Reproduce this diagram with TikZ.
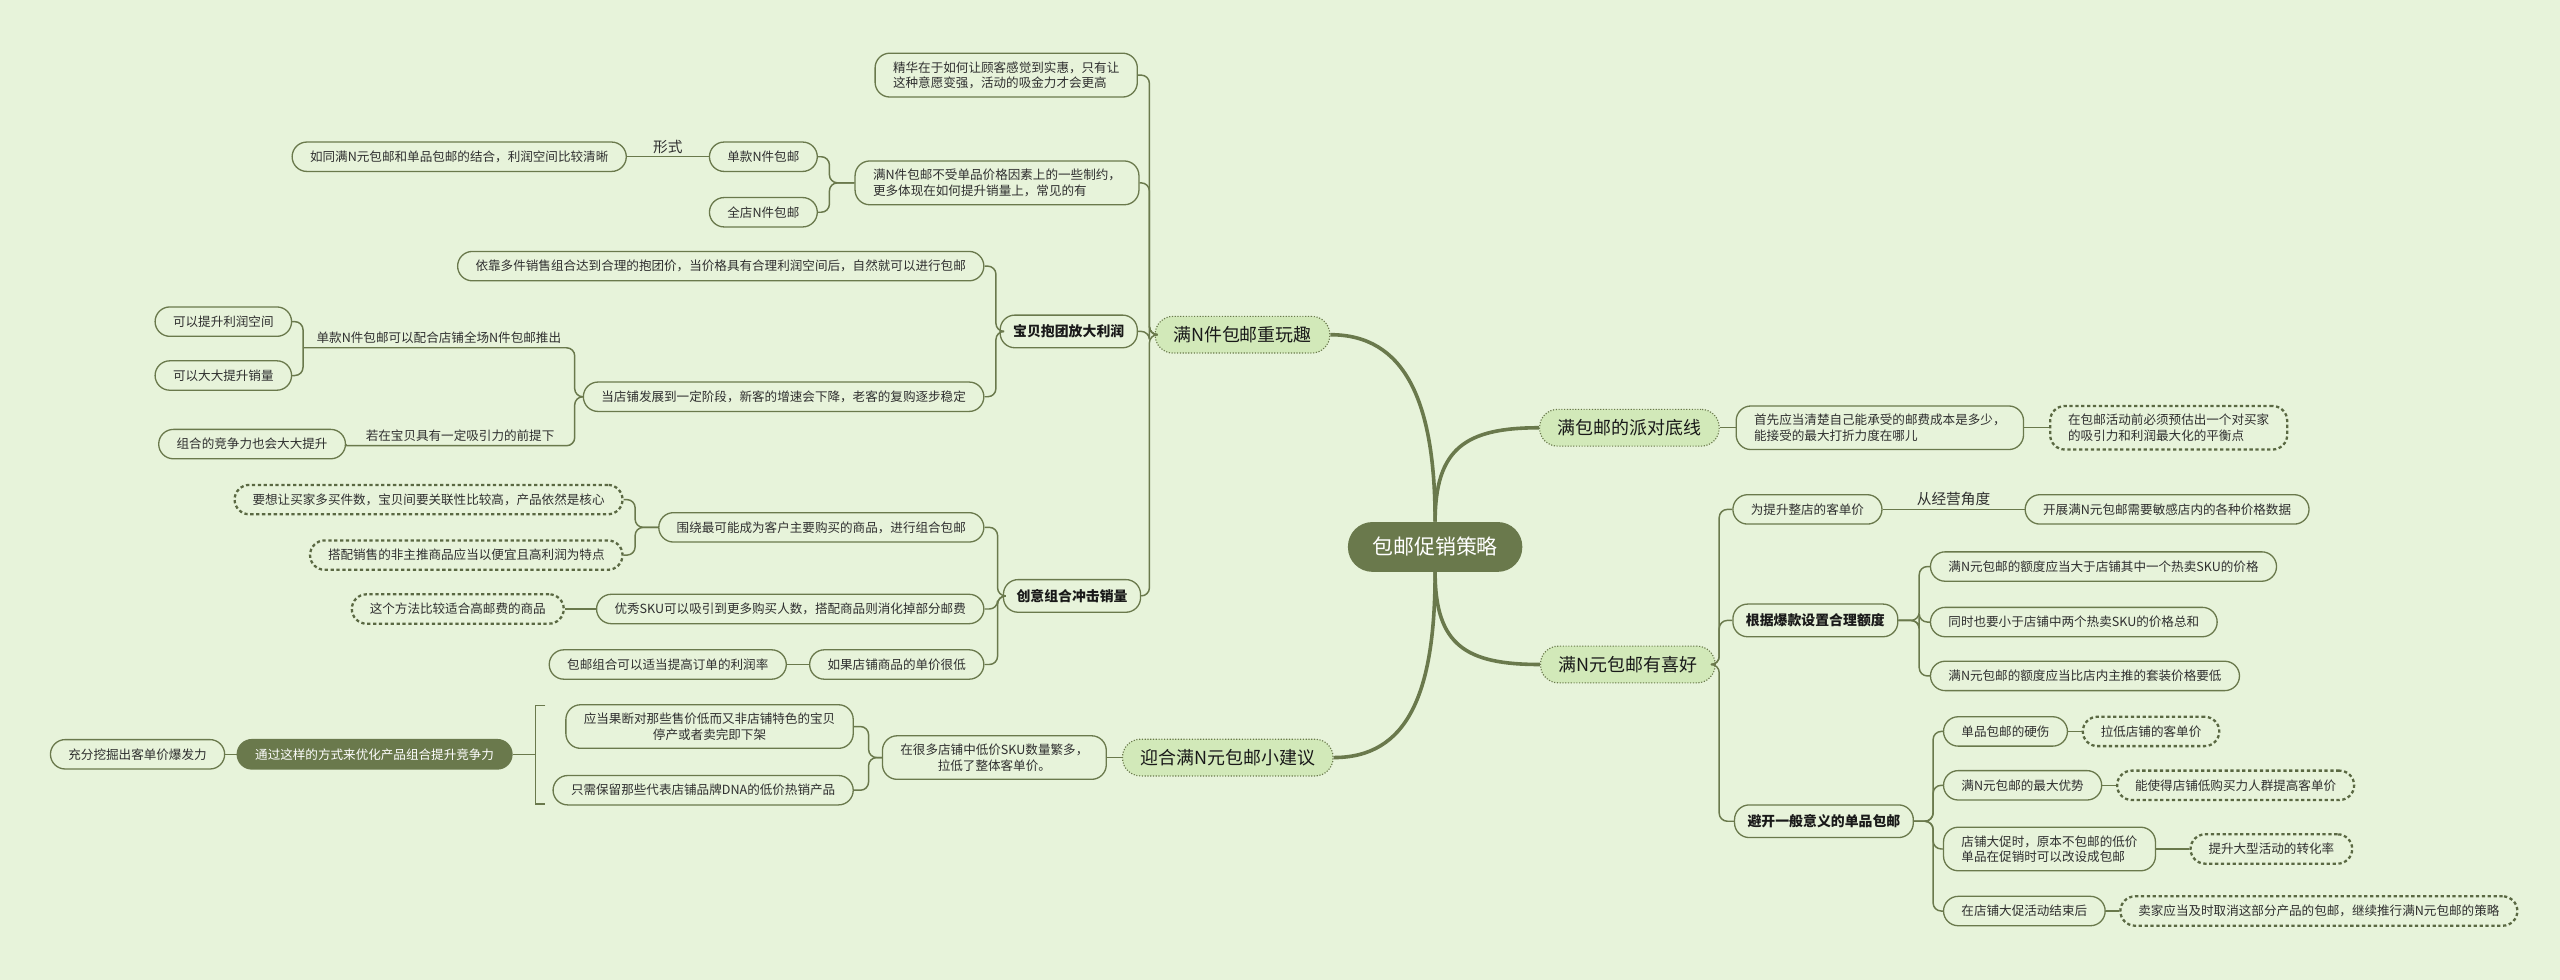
\documentclass[tikz,border=0pt]{standalone}
\usepackage{fontspec}
\setmainfont{Noto Sans CJK SC}
\usepackage{tikz}
\usetikzlibrary{positioning}
\definecolor{bg}{HTML}{E7F3DA}
\definecolor{mapolive}{HTML}{6A794C}
\definecolor{mapdark}{HTML}{5A6842}
\definecolor{leafgreen}{HTML}{D2E9B9}
\definecolor{ink}{HTML}{2F2F2F}

\begin{document}
\begin{tikzpicture}[x=1pt,y=-1pt,
   topic/.style={draw=mapolive,line width=0.8pt,fill=bg,rounded corners=9pt,text=ink,
     font=\fontsize{7.7}{9.5}\selectfont,inner xsep=11pt,inner ysep=5pt,minimum height=18pt,align=left},
   btopic/.style={topic,font=\fontsize{8.5}{10}\selectfont\bfseries,text=black!90,inner xsep=8pt,minimum height=20pt},
   dtopic/.style={topic,draw=mapdark,line width=1.4pt,dash pattern=on 2pt off 1.6pt},
   ftopic/.style={topic,fill=mapolive,text=white},
   utopic/.style={font=\fontsize{7.7}{9.5}\selectfont,text=ink,inner xsep=0pt,inner ysep=2.5pt},
   mainbr/.style={draw=mapolive,densely dotted,line width=0.7pt,fill=leafgreen,rounded corners=11pt,
     font=\fontsize{11}{13}\selectfont,text=black!90,inner xsep=11pt,minimum height=22.5pt},
   rootbr/.style={fill=mapolive,text=white,rounded corners=15pt,font=\fontsize{12.8}{15}\selectfont,
     inner xsep=15pt,minimum height=30.5pt},
   elabel/.style={font=\fontsize{9}{10}\selectfont,text=ink,inner sep=1.5pt},
   conn/.style={draw=mapolive,line width=0.9pt,rounded corners=5pt},
   trunk/.style={draw=mapolive,line width=2.2pt}]
  \useasboundingbox (0,0) rectangle (1568,600);
  \fill[bg] (0,0) rectangle (1568,600);

  \node[rootbr] (root) at (879,335) {包邮促销策略};
  \node[mainbr] (fun) at (761,205) {满N件包邮重玩趣};
  \node[mainbr] (base) at (998,262) {满包邮的派对底线};
  \node[mainbr] (pref) at (997,407) {满N元包邮有喜好};
  \node[mainbr] (tips) at (752,464) {迎合满N元包邮小建议};

  \draw[trunk] (root.north) .. controls +(0,-75) and +(45,0) .. (fun.east);
  \draw[trunk] (root.north) .. controls +(0,-45) and +(-45,0) .. (base.west);
  \draw[trunk] (root.south) .. controls +(0,45) and +(-45,0) .. (pref.west);
  \draw[trunk] (root.south) .. controls +(0,75) and +(45,0) .. (tips.east);

  % left, upper branch
  \node[topic,anchor=east] (essence) at (697,46) {精华在于如何让顾客感觉到实惠，只有让\\这种意愿变强，活动的吸金力才会更高};
  \node[topic,anchor=east] (nitem) at (698,112) {满N件包邮不受单品价格因素上的一些制约，\\更多体现在如何提升销量上，常见的有};
  \node[topic,anchor=east] (single) at (501,96) {单款N件包邮};
  \node[topic,anchor=east] (store) at (501,130) {全店N件包邮};
  \node[topic,anchor=east] (combo) at (384,96) {如同满N元包邮和单品包邮的结合，利润空间比较清晰};
  \node[btopic,anchor=east] (group) at (697,203) {宝贝抱团放大利润};
  \node[topic,anchor=east] (bundle) at (603,163) {依靠多件销售组合达到合理的抱团价，当价格具有合理利润空间后，自然就可以进行包邮};
  \node[topic,anchor=east] (stage) at (603,243) {当店铺发展到一定阶段，新客的增速会下降，老客的复购逐步稳定};
  \node[utopic,anchor=south east,minimum width=166pt] (withall) at (352,213) {单款N件包邮可以配合店铺全场N件包邮推出};
  \node[topic,anchor=east] (profit) at (179,197) {可以提升利润空间};
  \node[topic,anchor=east] (volume) at (179,230) {可以大大提升销量};
  \node[utopic,anchor=south east,minimum width=140pt] (attract) at (352,273) {若在宝贝具有一定吸引力的前提下};
  \node[topic,anchor=east] (compete) at (212,272) {组合的竞争力也会大大提升};
  \node[btopic,anchor=east] (creative) at (699,365) {创意组合冲击销量};
  \node[topic,anchor=east] (core) at (603,323) {围绕最可能成为客户主要购买的商品，进行组合包邮};
  \node[dtopic,anchor=east] (relate) at (382,306) {要想让买家多买件数，宝贝间要关联性比较高，产品依然是核心};
  \node[dtopic,anchor=east] (cheap) at (382,340) {搭配销售的非主推商品应当以便宜且高利润为特点};
  \node[topic,anchor=east] (goodsku) at (603,373) {优秀SKU可以吸引到更多购买人数，搭配商品则消化掉部分邮费};
  \node[dtopic,anchor=east] (heavy) at (346,373) {这个方法比较适合高邮费的商品};
  \node[topic,anchor=east] (lowprice) at (603,407) {如果店铺商品的单价很低};
  \node[topic,anchor=east] (margin) at (482,407) {包邮组合可以适当提高订单的利润率};

  \coordinate (sfun) at (704,205);
  \coordinate (snitem) at (508,112);
  \coordinate (sgroup) at (610,203);
  \coordinate (sstage) at (352,243);
  \coordinate (screat) at (611,365);
  \coordinate (score) at (389,323);
  \draw[conn] (fun.west) -- (sfun) |- (essence.east);
  \draw[conn] (fun.west) -- (sfun) |- (nitem.east);
  \draw[conn] (fun.west) -- (sfun) |- (group.east);
  \draw[conn] (fun.west) -- (sfun) |- (creative.east);
  \draw[conn] (nitem.west) -- (snitem) |- (single.east);
  \draw[conn] (nitem.west) -- (snitem) |- (store.east);
  \draw[conn] (single.west) -- node[elabel,above]{形式} (combo.east);
  \draw[conn] (group.west) -- (sgroup) |- (bundle.east);
  \draw[conn] (group.west) -- (sgroup) |- (stage.east);
  \draw[conn] (stage.west) -- (sstage) |- (withall.south west);
  \draw[conn] (stage.west) -- (sstage) |- (attract.south west);
  \draw[conn] (withall.south west) |- (profit.east);
  \draw[conn] (withall.south west) |- (volume.east);
  \draw[conn] (attract.south west) -- (compete.east);
  \draw[conn] (creative.west) -- (screat) |- (core.east);
  \draw[conn] (creative.west) -- (screat) |- (goodsku.east);
  \draw[conn] (creative.west) -- (screat) |- (lowprice.east);
  \draw[conn] (core.west) -- (score) |- (relate.east);
  \draw[conn] (core.west) -- (score) |- (cheap.east);
  \draw[conn] (goodsku.west) -- (heavy.east);
  \draw[conn] (lowprice.west) -- (margin.east);

  % left, lower branch
  \node[topic,anchor=east,align=center] (manysku) at (678,464) {在很多店铺中低价SKU数量繁多，\\拉低了整体客单价。};
  \node[topic,anchor=east,align=center] (drop) at (523,445) {应当果断对那些售价低而又非店铺特色的宝贝\\停产或者卖完即下架};
  \node[topic,anchor=east] (keep) at (523,484) {只需保留那些代表店铺品牌DNA的低价热销产品};
  \node[ftopic,anchor=east] (optim) at (314,462) {通过这样的方式来优化产品组合提升竞争力};
  \node[topic,anchor=east] (burst) at (138,462) {充分挖掘出客单价爆发力};
  \coordinate (smany) at (532,464);
  \coordinate (brk) at (328,462);
  \coordinate (brtop) at (328,432);
  \coordinate (brbot) at (328,492.5);
  \draw[conn] (tips.west) -- (manysku.east);
  \draw[conn] (manysku.west) -- (smany) |- (drop.east);
  \draw[conn] (manysku.west) -- (smany) |- (keep.east);
  \draw[conn,sharp corners] ([xshift=6pt]brtop) -- (brtop) -- (brbot) -- ([xshift=6pt]brbot);
  \draw[conn] (optim.east) -- (brk);
  \draw[conn] (optim.west) -- (burst.east);

  % right branches
  \node[topic,anchor=west] (cost) at (1063,262) {首先应当清楚自己能承受的邮费成本是多少，\\能接受的最大打折力度在哪儿};
  \node[dtopic,anchor=west] (balance) at (1255,262) {在包邮活动前必须预估出一个对买家\\的吸引力和利润最大化的平衡点};
  \node[topic,anchor=west] (avg) at (1061,312) {为提升整店的客单价};
  \node[topic,anchor=west] (data) at (1240,312) {开展满N元包邮需要敏感店内的各种价格数据};
  \node[btopic,anchor=west] (quota) at (1061,380) {根据爆款设置合理额度};
  \node[topic,anchor=west] (q1) at (1182,347) {满N元包邮的额度应当大于店铺其中一个热卖SKU的价格};
  \node[topic,anchor=west] (q2) at (1182,381) {同时也要小于店铺中两个热卖SKU的价格总和};
  \node[topic,anchor=west] (q3) at (1182,414) {满N元包邮的额度应当比店内主推的套装价格要低};
  \node[btopic,anchor=west] (avoid) at (1062,503) {避开一般意义的单品包邮};
  \node[topic,anchor=west] (flaw) at (1190,448) {单品包邮的硬伤};
  \node[dtopic,anchor=west] (lower) at (1275,448) {拉低店铺的客单价};
  \node[topic,anchor=west] (plus) at (1190,481) {满N元包邮的最大优势};
  \node[dtopic,anchor=west] (raise) at (1296,481) {能使得店铺低购买力人群提高客单价};
  \node[topic,anchor=west] (promo) at (1190,520) {店铺大促时，原本不包邮的低价\\单品在促销时可以改设成包邮};
  \node[dtopic,anchor=west] (convert) at (1341,520) {提升大型活动的转化率};
  \node[topic,anchor=west] (after) at (1190,558) {在店铺大促活动结束后};
  \node[dtopic,anchor=west] (cancel) at (1298,558) {卖家应当及时取消这部分产品的包邮，继续推行满N元包邮的策略};

  \coordinate (spref) at (1053,407);
  \coordinate (squota) at (1175.5,380);
  \coordinate (savoid) at (1184,503);
  \draw[conn] (base.east) -- (cost.west);
  \draw[conn] (cost.east) -- (balance.west);
  \draw[conn] (pref.east) -- (spref) |- (avg.west);
  \draw[conn] (pref.east) -- (spref) |- (quota.west);
  \draw[conn] (pref.east) -- (spref) |- (avoid.west);
  \draw[conn] (avg.east) -- node[elabel,above]{从经营角度} (data.west);
  \draw[conn] (quota.east) -- (squota) |- (q1.west);
  \draw[conn] (quota.east) -- (squota) |- (q2.west);
  \draw[conn] (quota.east) -- (squota) |- (q3.west);
  \draw[conn] (avoid.east) -- (savoid) |- (flaw.west);
  \draw[conn] (avoid.east) -- (savoid) |- (plus.west);
  \draw[conn] (avoid.east) -- (savoid) |- (promo.west);
  \draw[conn] (avoid.east) -- (savoid) |- (after.west);
  \draw[conn] (flaw.east) -- (lower.west);
  \draw[conn] (plus.east) -- (raise.west);
  \draw[conn] (promo.east) -- (convert.west);
  \draw[conn] (after.east) -- (cancel.west);
\end{tikzpicture}
\end{document}
